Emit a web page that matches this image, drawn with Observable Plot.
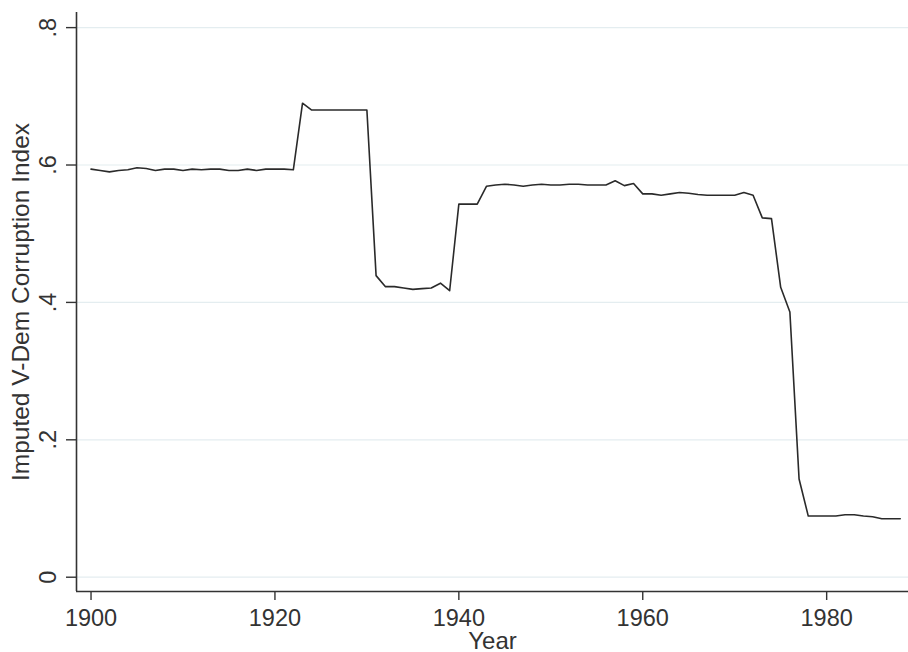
<!DOCTYPE html>
<html>
<head>
<meta charset="utf-8">
<script src="https://cdn.jsdelivr.net/npm/d3@7"></script>
<script src="https://cdn.jsdelivr.net/npm/@observablehq/plot@0.6"></script>
<style>
  html, body { margin: 0; padding: 0; background: #ffffff; }
  #chart { width: 908px; height: 652px; }
</style>
</head>
<body>
<div id="chart"></div>
<script>
const years = d3.range(1900, 1989);
const corruption = [
  0.594, 0.592, 0.590, 0.592, 0.593, 0.596, 0.595, 0.592, 0.594, 0.594,
  0.592, 0.594, 0.593, 0.594, 0.594, 0.592, 0.592, 0.594, 0.592, 0.594,
  0.594, 0.594, 0.593, 0.690, 0.680, 0.680, 0.680, 0.680, 0.680, 0.680,
  0.680, 0.439, 0.423, 0.423, 0.421, 0.419, 0.420, 0.421, 0.428, 0.417,
  0.543, 0.543, 0.543, 0.569, 0.571, 0.572, 0.571, 0.569, 0.571, 0.572,
  0.571, 0.571, 0.572, 0.572, 0.571, 0.571, 0.571, 0.577, 0.570, 0.573,
  0.558, 0.558, 0.556, 0.558, 0.560, 0.559, 0.557, 0.556, 0.556, 0.556,
  0.556, 0.560, 0.556, 0.523, 0.522, 0.422, 0.386, 0.143, 0.089, 0.089,
  0.089, 0.089, 0.091, 0.091, 0.089, 0.088, 0.085, 0.085, 0.085
];
const xTicks = [1900, 1920, 1940, 1960, 1980];
const yTicks = [0, 0.2, 0.4, 0.6, 0.8];
const xDomain = [1898.42, 1988.9];
const yDomain = [-0.0208, 0.822];
const xTitle = "Year";
const yTitle = "Imputed V-Dem Corruption Index";

const data = years.map((yr, i) => ({year: yr, value: corruption[i]}));
const fmtY = d => d === 0 ? "0" : String(d).replace(/^0/, "");
const ink = "#333333";

const chart = Plot.plot({
  width: 908,
  height: 652,
  marginLeft: 76,
  marginRight: 0,
  marginTop: 12,
  marginBottom: 61,
  style: {fontFamily: "'Liberation Sans', Arial, sans-serif", fontSize: "23.5px", color: ink, background: "#ffffff"},
  x: {domain: xDomain},
  y: {domain: yDomain},
  marks: [
    Plot.gridY(yTicks, {stroke: "#e4edf0", strokeOpacity: 1, strokeWidth: 1.2}),
    Plot.axisY({ticks: yTicks, tickSize: 10, tickFormat: () => "", label: null, stroke: ink, strokeWidth: 1.4}),
    Plot.text(yTicks, {y: d => d, text: fmtY, frameAnchor: "left", dx: -21, rotate: -90,
      lineAnchor: "bottom", textAnchor: "middle", fontSize: 23.5, fill: ink}),
    Plot.axisX({ticks: xTicks, tickSize: 9, tickPadding: 9, tickFormat: d => String(d), label: null,
      fontSize: 23.5, stroke: ink, strokeWidth: 1.4, fill: ink}),
    Plot.text([xTitle], {text: d => d, frameAnchor: "bottom", dy: 57, lineAnchor: "bottom",
      textAnchor: "middle", fontSize: 24, fill: ink}),
    Plot.text([yTitle], {text: d => d, frameAnchor: "left", dx: -48, rotate: -90,
      lineAnchor: "bottom", textAnchor: "middle", fontSize: 24.5, fill: ink}),
    Plot.ruleX([xDomain[0]], {stroke: ink, strokeWidth: 1.6}),
    Plot.ruleY([yDomain[0]], {stroke: ink, strokeWidth: 1.6}),
    Plot.line(data, {x: "year", y: "value", stroke: "#2a2a2a", strokeWidth: 1.6})
  ]
});
document.getElementById("chart").appendChild(chart);
</script>
</body>
</html>
